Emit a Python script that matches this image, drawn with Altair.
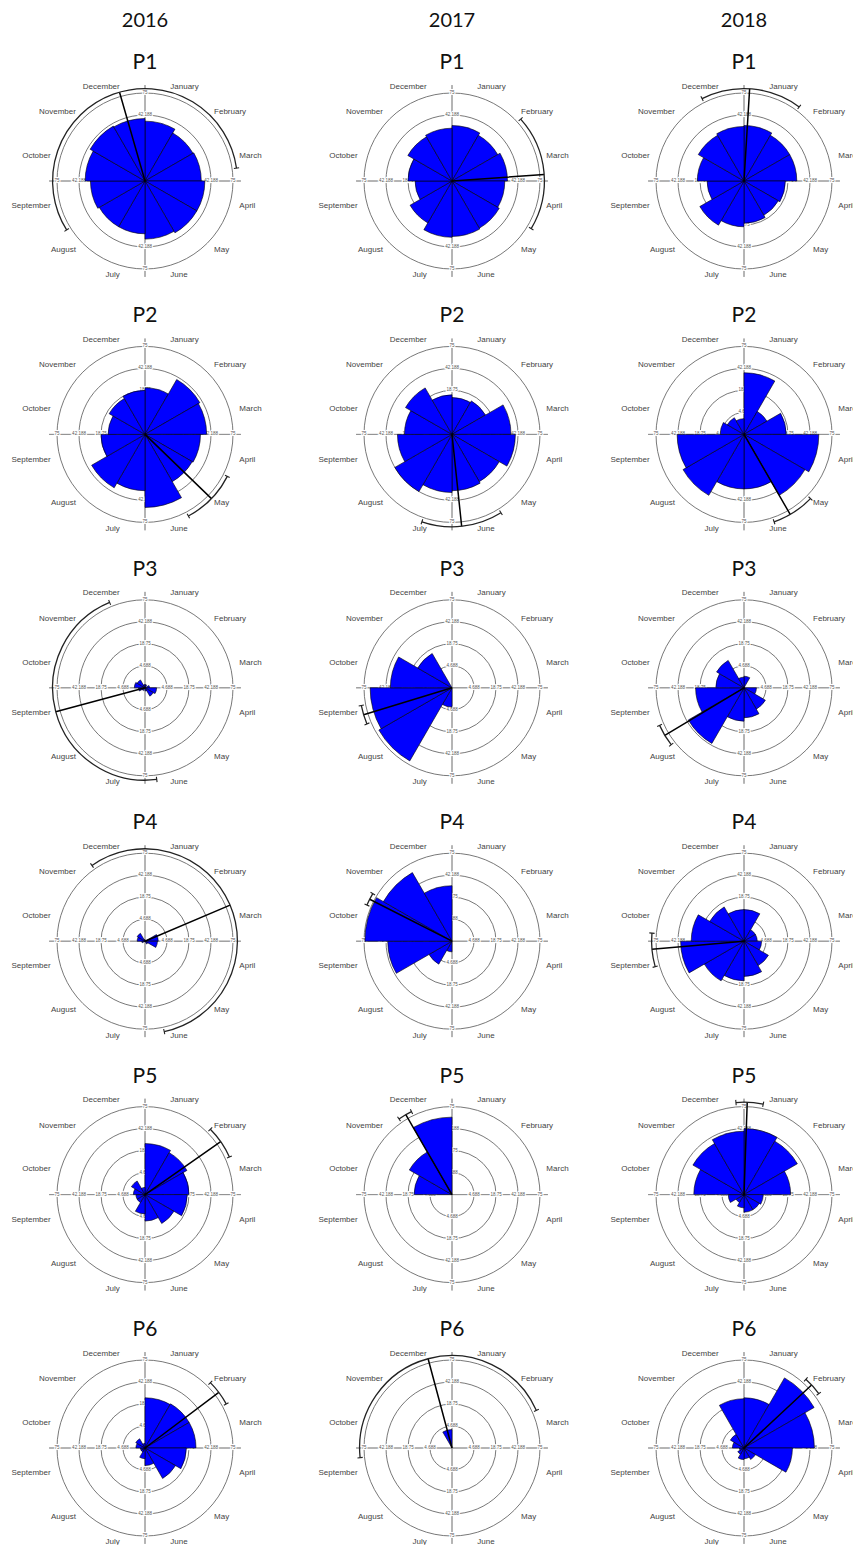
import math
import altair as alt
import pandas as pd

# ---------------- data ----------------
months = ["January", "February", "March", "April", "May", "June",
          "July", "August", "September", "October", "November", "December"]
years = [2016, 2017, 2018]
sites = ["P1", "P2", "P3", "P4", "P5", "P6"]
ring_values = [4.688, 18.75, 42.188, 75]
ring_labels = ["4.688", "18.75", "42.188", "75"]

# monthly values, January .. December
p1_2016 = [34.7, 29.8, 30.7, 34.7, 34.7, 32.7, 27.0, 27.0, 28.8, 34.7, 38.9, 37.8]
p2_2016 = [21.1, 38.9, 36.8, 29.8, 28.8, 51.7, 30.7, 36.8, 18.8, 13.2, 16.6, 18.8]
p3_2016 = [0.1, 0, 0.2, 1.3, 0.9, 0.1, 0, 0.1, 0.4, 1.1, 0.8, 0.1]
p4_2016 = [0, 0, 1.7, 1.5, 0.1, 0, 0, 0, 0.1, 0.6, 0.8, 0.03]
p5_2016 = [25.2, 22.7, 18.8, 17.3, 10.8, 6.8, 3.6, 0.8, 0.8, 1.3, 2.4, 0.5]
p6_2016 = [24.4, 25.2, 25.2, 16.6, 12.0, 3.0, 1.1, 0.2, 0.2, 0.8, 1.1, 0.2]

p1_2017 = [29.8, 27.0, 29.8, 27.0, 28.8, 29.8, 30.7, 22.7, 13.2, 18.8, 25.2, 27.0]
p2_2017 = [13.2, 14.5, 33.7, 38.9, 28.8, 30.7, 32.7, 42.2, 28.8, 21.9, 27.9, 15.2]
p3_2017 = [0, 0, 0, 0, 0, 0, 3.6, 69.1, 64.9, 36.8, 15.2, 0]
p4_2017 = [0, 0, 0, 0, 0, 0, 1.1, 6.8, 40.0, 73.5, 60.8, 29.8]
p5_2017 = [0, 0, 0, 0, 0, 0, 0, 0, 0, 13.9, 23.5, 58.1]
p6_2017 = [0, 0, 0, 0, 0, 0, 0, 0, 0, 0, 0, 3.3]

p1_2018 = [29.8, 27.0, 27.0, 16.6, 15.2, 17.3, 20.3, 25.2, 13.2, 21.1, 27.0, 28.8]
p2_2018 = [36.8, 6.8, 17.3, 54.2, 48.0, 28.8, 28.8, 48.0, 43.3, 5.5, 3.6, 2.4]
p3_2018 = [1.3, 0, 0, 1.5, 5.9, 8.7, 10.8, 40.0, 22.7, 7.7, 9.7, 1.1]
p4_2018 = [9.7, 1.7, 1.7, 3.0, 7.7, 12.0, 15.2, 20.3, 38.9, 27.0, 15.2, 9.7]
p5_2018 = [42.2, 36.8, 21.1, 3.6, 3.0, 3.0, 1.7, 0.8, 2.4, 24.4, 33.7, 38.9]
p6_2018 = [24.4, 63.5, 48.0, 22.7, 1.7, 1.1, 1.3, 0.5, 0.2, 1.3, 2.4, 23.5]

# mean direction and its confidence arc (degrees clockwise from north), P1..P6
mean_2016 = [344, 134, 255, 67, 55, 53]
ci_lo_2016 = [238, 117, 172.7, 325, 45, 45]
ci_hi_2016 = [442, 152, 337.5, 528, 66, 61.5]
mean_2017 = [86, 174, 253, 297, 330, 345]
ci_lo_2017 = [48, 148, 247, 293, 325, 264]
ci_hi_2017 = [121, 199, 259, 301, 334, 426]
mean_2018 = [3.5, 150, 239, 265, 2, 47]
ci_lo_2018 = [333, 134, 232, 254, 355, 42]
ci_hi_2018 = [396.7, 161, 246, 275, 372, 54]

series = {
    2016: [p1_2016, p2_2016, p3_2016, p4_2016, p5_2016, p6_2016],
    2017: [p1_2017, p2_2017, p3_2017, p4_2017, p5_2017, p6_2017],
    2018: [p1_2018, p2_2018, p3_2018, p4_2018, p5_2018, p6_2018],
}
means = {2016: mean_2016, 2017: mean_2017, 2018: mean_2018}
ci_lo = {2016: ci_lo_2016, 2017: ci_lo_2017, 2018: ci_lo_2018}
ci_hi = {2016: ci_hi_2016, 2017: ci_hi_2017, 2018: ci_hi_2018}

# ---------------- tables ----------------
bars, rings, axes, ticklabs, stats, ends, mlabs, titles = [], [], [], [], [], [], [], []
for y in years:
    for r, site in enumerate(sites, start=1):
        for i, v in enumerate(series[y][r - 1]):
            if v > 0:
                bars.append(dict(year=y, row=r, start=30 * i, end=30 * i + 30, value=v))
        for rv in ring_values:
            rings.append(dict(year=y, row=r, ring=rv))
        for d in [0, 90, 180, 270]:
            axes.append(dict(year=y, row=r, deg=d))
            for rv, rl in zip(ring_values, ring_labels):
                ticklabs.append(dict(year=y, row=r, deg=d, ring=rv, label=rl))
        stats.append(dict(year=y, row=r, mean=means[y][r - 1],
                          lo=ci_lo[y][r - 1], hi=ci_hi[y][r - 1]))
        ends.append(dict(year=y, row=r, deg=ci_lo[y][r - 1]))
        ends.append(dict(year=y, row=r, deg=ci_hi[y][r - 1]))
        for i, m in enumerate(months):
            mlabs.append(dict(year=y, row=r, mid=30 * i + 15, month=m,
                              side="right" if i < 6 else "left"))
        titles.append(dict(year=y, row=r, site=site, ytitle=str(y)))

bars = pd.DataFrame(bars)
rings = pd.DataFrame(rings)
axes = pd.DataFrame(axes)
ticklabs = pd.DataFrame(ticklabs)
stats = pd.DataFrame(stats)
ends = pd.DataFrame(ends)
mlabs = pd.DataFrame(mlabs)
titles = pd.DataFrame(titles)

# ---------------- scales ----------------
R = 88
TWO_PI = 2 * math.pi
xs = alt.Scale(domain=[2016, 2017, 2018], range=[137, 444, 736], zero=False, nice=False)
ys = alt.Scale(domain=[1, 6], range=[173, 1440], zero=False, nice=False)
ths = alt.Scale(domain=[0, 360], range=[0, TWO_PI])
rs = alt.Scale(type="sqrt", domain=[0, 75], range=[0, R], zero=True)

X = alt.X("year:Q", scale=xs, axis=None)
Y = alt.Y("row:Q", scale=ys, axis=None)


def TH(f):
    return alt.Theta(f, type="quantitative", scale=ths, stack=False)


def RAD(f):
    return alt.Radius(f, type="quantitative", scale=rs, stack=False)


FONT = "Liberation Sans"

ring_layer = alt.Chart(rings).mark_arc(
    theta=0, theta2=TWO_PI, fillOpacity=0, stroke="#555555", strokeWidth=0.8
).encode(x=X, y=Y, radius=RAD("ring"))

axis_layer = alt.Chart(axes).mark_arc(
    radius=R * 1.09, radius2=0, fillOpacity=0, stroke="#8a8a8a", strokeWidth=0.8
).encode(x=X, y=Y, theta=TH("deg"), theta2=alt.Theta2("deg"))

tick_halo = alt.Chart(ticklabs).mark_text(
    font=FONT, fontSize=4.5, stroke="white", strokeWidth=2.2, color="white",
    align="center", baseline="middle"
).encode(x=X, y=Y, theta=TH("deg"), radius=RAD("ring"), text="label:N")

tick_text = alt.Chart(ticklabs).mark_text(
    font=FONT, fontSize=4.5, color="#555555", align="center", baseline="middle"
).encode(x=X, y=Y, theta=TH("deg"), radius=RAD("ring"), text="label:N")

bar_layer = alt.Chart(bars).mark_arc(
    fill="#0000FF", stroke="black", strokeWidth=0.6
).encode(x=X, y=Y, theta=TH("start"), theta2=alt.Theta2("end"), radius=RAD("value"))

mean_layer = alt.Chart(stats).mark_arc(
    radius=R * 1.05, radius2=0, fillOpacity=0, stroke="black", strokeWidth=1.5
).encode(x=X, y=Y, theta=TH("mean"), theta2=alt.Theta2("mean"))

ci_layer = alt.Chart(stats).mark_arc(
    radius=R * 1.05, radius2=R * 1.05, fillOpacity=0, stroke="#222222", strokeWidth=1.3
).encode(x=X, y=Y, theta=TH("lo"), theta2=alt.Theta2("hi"))

end_layer = alt.Chart(ends).mark_arc(
    radius=R * 1.08, radius2=R * 1.02, fillOpacity=0, stroke="#222222", strokeWidth=1.1
).encode(x=X, y=Y, theta=TH("deg"), theta2=alt.Theta2("deg"))

mlab_right = alt.Chart(mlabs).transform_filter(alt.datum.side == "right").mark_text(
    font=FONT, fontSize=8, color="#444444", align="left", baseline="middle", radius=R * 1.11
).encode(x=X, y=Y, theta=TH("mid"), text="month:N")

mlab_left = alt.Chart(mlabs).transform_filter(alt.datum.side == "left").mark_text(
    font=FONT, fontSize=8, color="#444444", align="right", baseline="middle", radius=R * 1.11
).encode(x=X, y=Y, theta=TH("mid"), text="month:N")

site_title = alt.Chart(titles).mark_text(
    font="Lato", fontSize=21, color="#111111", align="center", baseline="middle", dy=-118
).encode(x=X, y=Y, text="site:N")

year_title = alt.Chart(titles).transform_filter(alt.datum.row == 1).mark_text(
    font="Lato", fontSize=20, color="#111111", align="center", baseline="middle", dy=-160
).encode(x=X, y=Y, text="ytitle:N")

chart = alt.layer(
    ring_layer, axis_layer, tick_halo, tick_text, bar_layer,
    mean_layer, ci_layer, end_layer, mlab_right, mlab_left, site_title, year_title
).properties(
    width=845, height=1537, autosize="none", padding=0, background="white"
).configure_view(strokeWidth=0)

chart.save("out.html", embed_options={"renderer": "svg", "actions": False})
